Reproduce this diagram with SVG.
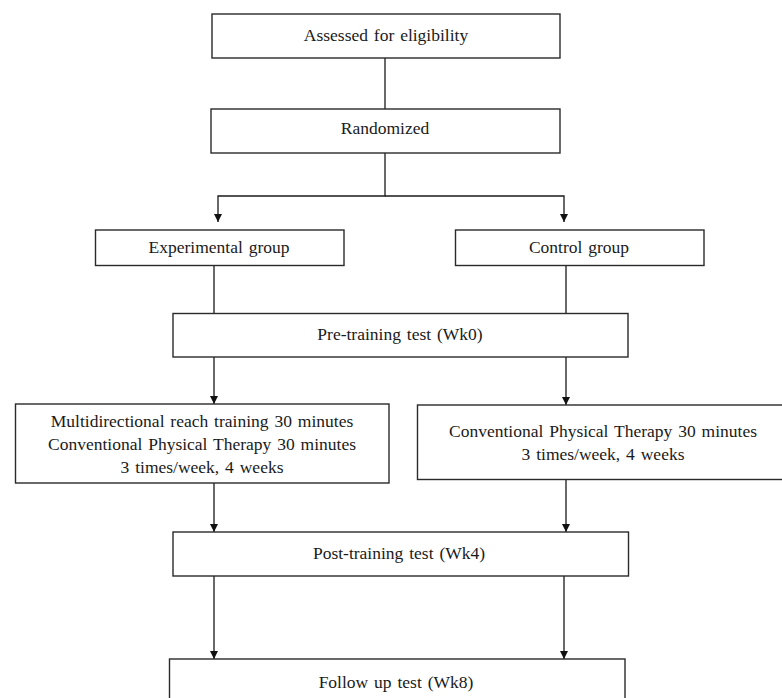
<svg xmlns="http://www.w3.org/2000/svg" width="782" height="698" viewBox="0 0 782 698">
<defs>
<marker id="arr" viewBox="0 0 10 10" refX="10" refY="5" markerWidth="9" markerHeight="8" markerUnits="userSpaceOnUse" orient="auto">
<path d="M0,0 L10,5 L0,10 z" fill="#111"/>
</marker>
<style>
.box{fill:#fff;stroke:#2a2a2a;stroke-width:1.4}
.c{fill:none;stroke:#1a1a1a;stroke-width:1.3}
.a{marker-end:url(#arr)}
</style>
</defs>
<rect width="782" height="698" fill="#fff"/>
<g id="connectors">
<line class="c" x1="385" y1="58" x2="385" y2="109"/>
<polyline class="c a" points="385,153 385,196 218,196 218,222"/>
<polyline class="c a" points="385,196 564,196 564,222"/>
<line class="c" x1="214" y1="265.5" x2="214" y2="313"/>
<line class="c" x1="566" y1="265.5" x2="566" y2="313"/>
<line class="c a" x1="214" y1="357" x2="214" y2="404"/>
<line class="c a" x1="566" y1="357" x2="566" y2="405"/>
<line class="c a" x1="214" y1="483" x2="214" y2="532"/>
<line class="c a" x1="566" y1="479.5" x2="566" y2="532"/>
<line class="c a" x1="214" y1="576" x2="214" y2="659"/>
<line class="c a" x1="564" y1="576" x2="564" y2="659"/>
</g>
<g id="n1">
<rect class="box" x="212" y="14" width="348" height="44"/>
<text x="386" y="41" font-family="Liberation Serif" style="font-family:'Liberation Serif',serif;font-size:17.5px;fill:#1a1a1a;text-anchor:middle;word-spacing:1.5px">Assessed for eligibility</text>
</g>
<g id="n2">
<rect class="box" x="211" y="109" width="349" height="44"/>
<text x="385" y="134" font-family="Liberation Serif" style="font-family:'Liberation Serif',serif;font-size:17.5px;fill:#1a1a1a;text-anchor:middle;word-spacing:1.5px">Randomized</text>
</g>
<g id="n3">
<rect class="box" x="95.5" y="230" width="248.5" height="35.5"/>
<text x="219" y="253" font-family="Liberation Serif" style="font-family:'Liberation Serif',serif;font-size:17.5px;fill:#1a1a1a;text-anchor:middle;word-spacing:1.5px">Experimental group</text>
</g>
<g id="n4">
<rect class="box" x="455.5" y="230" width="248.5" height="35.5"/>
<text x="579" y="253" font-family="Liberation Serif" style="font-family:'Liberation Serif',serif;font-size:17.5px;fill:#1a1a1a;text-anchor:middle;word-spacing:1.5px">Control group</text>
</g>
<g id="n5">
<rect class="box" x="173" y="313.5" width="455" height="43.5"/>
<text x="400" y="340" font-family="Liberation Serif" style="font-family:'Liberation Serif',serif;font-size:17.5px;fill:#1a1a1a;text-anchor:middle;word-spacing:1.5px">Pre-training test (Wk0)</text>
</g>
<g id="n6">
<rect class="box" x="15.5" y="404" width="373.5" height="79"/>
<text x="202" y="427" font-family="Liberation Serif" style="font-family:'Liberation Serif',serif;font-size:17.5px;fill:#1a1a1a;text-anchor:middle;word-spacing:1.5px">Multidirectional reach training 30 minutes</text>
<text x="202" y="450" font-family="Liberation Serif" style="font-family:'Liberation Serif',serif;font-size:17.5px;fill:#1a1a1a;text-anchor:middle;word-spacing:1.5px">Conventional Physical Therapy 30 minutes</text>
<text x="202" y="473" font-family="Liberation Serif" style="font-family:'Liberation Serif',serif;font-size:17.5px;fill:#1a1a1a;text-anchor:middle;word-spacing:1.5px">3 times/week, 4 weeks</text>
</g>
<g id="n7">
<rect class="box" x="417.5" y="405" width="370" height="74.5"/>
<text x="603" y="437" font-family="Liberation Serif" style="font-family:'Liberation Serif',serif;font-size:17.5px;fill:#1a1a1a;text-anchor:middle;word-spacing:1.5px">Conventional Physical Therapy 30 minutes</text>
<text x="603" y="460" font-family="Liberation Serif" style="font-family:'Liberation Serif',serif;font-size:17.5px;fill:#1a1a1a;text-anchor:middle;word-spacing:1.5px">3 times/week, 4 weeks</text>
</g>
<g id="n8">
<rect class="box" x="173" y="532" width="455.5" height="44"/>
<text x="399" y="559" font-family="Liberation Serif" style="font-family:'Liberation Serif',serif;font-size:17.5px;fill:#1a1a1a;text-anchor:middle;word-spacing:1.5px">Post-training test (Wk4)</text>
</g>
<g id="n9">
<rect class="box" x="169.5" y="659" width="455.5" height="50"/>
<text x="396" y="688" font-family="Liberation Serif" style="font-family:'Liberation Serif',serif;font-size:17.5px;fill:#1a1a1a;text-anchor:middle;word-spacing:1.5px">Follow up test (Wk8)</text>
</g>
</svg>
